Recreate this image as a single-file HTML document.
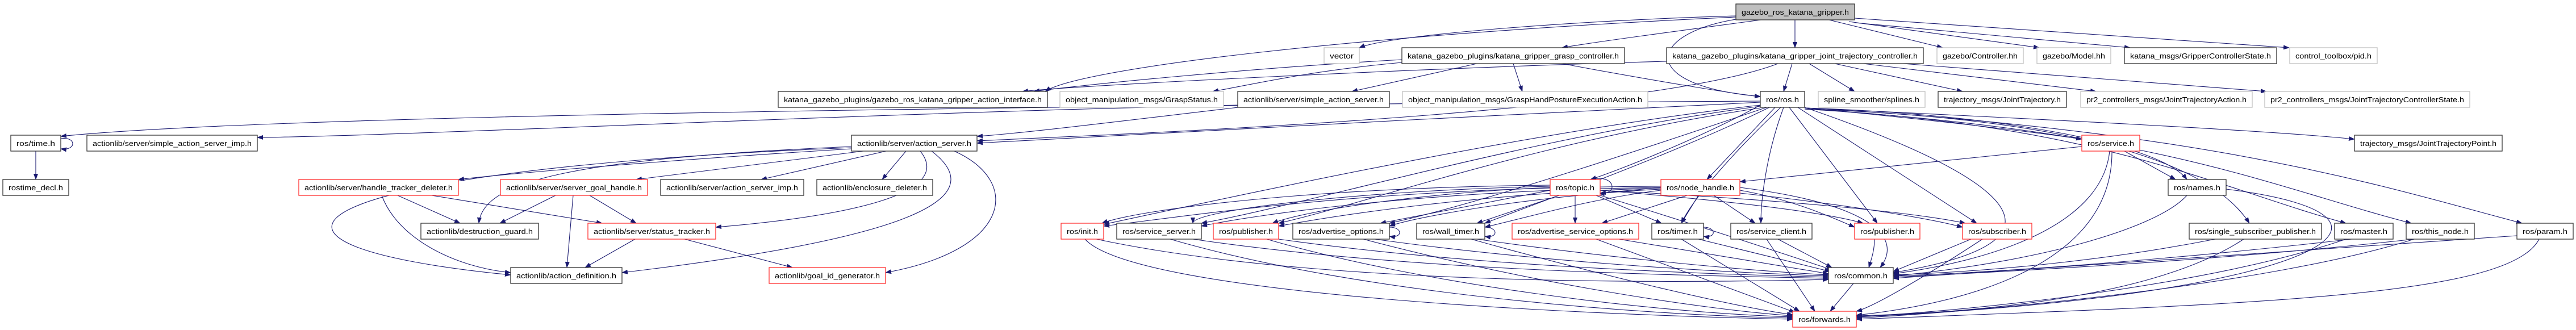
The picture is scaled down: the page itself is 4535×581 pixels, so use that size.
<!DOCTYPE html>
<html><head><meta charset="utf-8"><style>
html,body{margin:0;padding:0;background:#fff;}
svg{display:block;}
text{font-family:"Liberation Sans","DejaVu Sans",sans-serif;font-size:12.5px;fill:#000;}
.e{fill:none;stroke:#191970;stroke-width:1.1;marker-end:url(#a);}
.b{fill:#fff;stroke:#333;stroke-width:1.3;}
.r{fill:#fff;stroke:#ff3030;stroke-width:1.3;}
.g{fill:#fff;stroke:#bfbfbf;stroke-width:1.3;}
</style></head><body>
<svg width="4535" height="581" viewBox="0 0 4535 581" xmlns="http://www.w3.org/2000/svg">
<defs><marker id="a" markerWidth="11" markerHeight="8" refX="10" refY="4" orient="auto" markerUnits="userSpaceOnUse"><path d="M0,0 L11,4 L0,8 z" fill="#191970"/></marker></defs>
<g>
<path class="e" d="M3056,28 C2800,35 2450,60 2393,84"/>
<path class="e" d="M3056,30 C2400,60 1900,120 1840,161"/>
<path class="e" d="M3100,35 C2950,55 2800,75 2750,84"/>
<path class="e" d="M3160,35 L3160,84"/>
<path class="e" d="M3220,35 L3420,84"/>
<path class="e" d="M3255,38 L3590,84"/>
<path class="e" d="M3265,40 L3750,84"/>
<path class="e" d="M3265,32 L4030,84"/>
<path class="e" d="M3056,34 C2900,60 2880,150 3099,170"/>
<path class="e" d="M2468,105 C2200,120 1900,150 1820,161"/>
<path class="e" d="M2600,112 L2380,161"/>
<path class="e" d="M2664,112 L2680,161"/>
<path class="e" d="M2468,110 C2300,125 2200,150 2135,161"/>
<path class="e" d="M2750,112 C2900,140 3050,165 3099,170"/>
<path class="e" d="M2934,108 C2500,120 1900,150 1800,161"/>
<path class="e" d="M3155,112 L3140,161"/>
<path class="e" d="M3185,112 L3265,161"/>
<path class="e" d="M3230,112 L3455,161"/>
<path class="e" d="M3280,112 L3690,161"/>
<path class="e" d="M3350,112 L3990,161"/>
<path class="e" d="M3130,112 C2900,200 2000,235 1720,248"/>
<path class="e" d="M2179,185 C1500,200 700,240 453,242"/>
<path class="e" d="M2180,189 C2000,210 1800,235 1720,240"/>
<path class="e" d="M3099,178 C2000,185 500,200 107,240"/>
<path class="e" d="M3099,180 C2700,200 2000,235 1720,252"/>
<path class="e" d="M3125,189 L3005,316"/>
<path class="e" d="M3099,185 C3000,240 2850,300 2800,316"/>
<path class="e" d="M3177,190 C3400,210 3600,235 3665,245"/>
<path class="e" d="M3177,190 C3500,200 3800,250 3850,316"/>
<path class="e" d="M3150,189 L3305,393"/>
<path class="e" d="M3165,189 L3480,393"/>
<path class="e" d="M3177,189 C3500,300 3700,420 3333,480"/>
<path class="e" d="M3177,192 C3700,210 3900,300 3960,393"/>
<path class="e" d="M3177,192 C3700,220 3900,330 4130,393"/>
<path class="e" d="M3177,192 C3800,230 4000,330 4245,393"/>
<path class="e" d="M3177,190 C3900,230 4200,330 4440,393"/>
<path class="e" d="M3177,190 C3600,210 4000,230 4145,245"/>
<path class="e" d="M3099,185 C2700,230 2200,340 1943,395"/>
<path class="e" d="M3099,187 C2700,240 2300,360 2115,393"/>
<path class="e" d="M3099,190 C2700,250 2400,360 2251,393"/>
<path class="e" d="M3110,189 C2900,260 2600,360 2446,393"/>
<path class="e" d="M3115,189 C2950,270 2700,360 2614,393"/>
<path class="e" d="M3135,189 C3050,270 2980,350 2960,393"/>
<path class="e" d="M3140,189 C3110,270 3100,350 3100,393"/>
<path class="e" d="M1499,262 C1200,280 900,305 807,316"/>
<path class="e" d="M1520,266 L1120,316"/>
<path class="e" d="M1560,266 L1340,316"/>
<path class="e" d="M1595,266 L1553,316"/>
<path class="e" d="M1499,258 C1000,280 850,320 843,393"/>
<path class="e" d="M1620,266 C1680,340 1500,380 1260,400"/>
<path class="e" d="M1640,266 C1750,350 1600,420 1095,480"/>
<path class="e" d="M1680,266 C1800,320 1780,440 1559,480"/>
<path class="e" d="M1499,260 C500,300 350,430 899,484"/>
<path class="e" d="M700,344 L810,393"/>
<path class="e" d="M760,344 L1060,393"/>
<path class="e" d="M672,344 C700,420 800,470 899,480"/>
<path class="e" d="M978,344 L880,393"/>
<path class="e" d="M1038,344 L1120,393"/>
<path class="e" d="M1009,344 L998,471"/>
<path class="e" d="M1118,421 L1030,471"/>
<path class="e" d="M1205,421 L1395,471"/>
<path class="e" d="M63,266 L63,316"/>
<path class="e" d="M2773,344 L2773,393"/>
<path class="e" d="M2810,344 L2925,393"/>
<path class="e" d="M2745,344 L2600,393"/>
<path class="e" d="M2729,335 L2430,393"/>
<path class="e" d="M2729,330 C2500,340 2300,370 2240,393"/>
<path class="e" d="M2729,328 C2400,335 2100,370 2100,393"/>
<path class="e" d="M2729,326 C2300,330 2000,370 1940,393"/>
<path class="e" d="M2817,344 C3000,400 3150,450 3225,475"/>
<path class="e" d="M2817,335 C3000,350 3200,370 3280,393"/>
<path class="e" d="M2817,335 C3100,350 3350,370 3460,393"/>
<path class="e" d="M2970,344 L2820,393"/>
<path class="e" d="M2990,344 L2960,393"/>
<path class="e" d="M3017,344 L3090,393"/>
<path class="e" d="M2924,335 C2800,350 2700,380 2614,400"/>
<path class="e" d="M2924,333 C2700,345 2500,380 2446,398"/>
<path class="e" d="M2924,331 C2600,340 2350,380 2251,398"/>
<path class="e" d="M2924,330 C2500,335 2200,380 2115,398"/>
<path class="e" d="M2924,328 C2400,330 2100,380 1943,398"/>
<path class="e" d="M3063,335 C3150,350 3220,380 3265,400"/>
<path class="e" d="M3063,340 C3250,360 3400,385 3455,400"/>
<path class="e" d="M3063,330 C3300,360 3350,420 3310,471"/>
<path class="e" d="M2924,330 L2817,340"/>
<path class="e" d="M3665,258 L3063,320"/>
<path class="e" d="M3740,266 L3830,316"/>
<path class="e" d="M3714,266 C3700,400 3500,460 3333,482"/>
<path class="e" d="M3718,266 C3720,450 3500,530 3268,555"/>
<path class="e" d="M3850,344 C3800,400 3600,460 3333,486"/>
<path class="e" d="M3919,333 C4300,380 4100,520 3268,558"/>
<path class="e" d="M1930,421 C2300,500 2900,500 3219,492"/>
<path class="e" d="M1910,421 C2000,520 2800,555 3156,562"/>
<path class="e" d="M2100,421 C2500,480 3000,485 3219,490"/>
<path class="e" d="M2060,421 C2400,520 2900,555 3156,560"/>
<path class="e" d="M2251,421 C2600,470 3000,482 3219,488"/>
<path class="e" d="M2230,421 C2500,500 2900,550 3156,558"/>
<path class="e" d="M2420,421 C2700,460 3000,478 3219,486"/>
<path class="e" d="M2400,421 C2700,500 3000,545 3156,556"/>
<path class="e" d="M2600,421 C2800,450 3050,475 3219,484"/>
<path class="e" d="M2590,421 C2800,480 3050,540 3156,554"/>
<path class="e" d="M2850,421 L3219,482"/>
<path class="e" d="M2810,421 L3160,550"/>
<path class="e" d="M2990,421 L3222,478"/>
<path class="e" d="M2960,421 L3168,548"/>
<path class="e" d="M3130,421 L3225,471"/>
<path class="e" d="M3110,421 L3195,548"/>
<path class="e" d="M3300,421 C3300,440 3295,455 3290,471"/>
<path class="e" d="M3470,421 L3333,478"/>
<path class="e" d="M3490,421 C3400,480 3300,540 3268,548"/>
<path class="e" d="M3900,421 C3700,460 3500,478 3333,484"/>
<path class="e" d="M3950,421 C3800,520 3500,550 3268,556"/>
<path class="e" d="M4140,421 C3800,460 3500,480 3333,486"/>
<path class="e" d="M4130,421 C3900,500 3500,545 3268,558"/>
<path class="e" d="M4250,421 C3900,460 3500,480 3333,488"/>
<path class="e" d="M4250,421 C4000,500 3500,548 3268,560"/>
<path class="e" d="M4431,415 C3900,450 3500,480 3333,490"/>
<path class="e" d="M4470,421 C4420,520 4000,535 3268,562"/>
<path class="e" d="M3263,499 L3222,548"/>
<!-- self loops -->
<path class="e" d="M107,244 C135,240 135,266 107,262"/>
<path class="e" d="M2446,400 C2470,400 2470,420 2446,416"/>
<path class="e" d="M2614,400 C2638,400 2638,420 2614,416"/>
<path class="e" d="M2999,400 C3022,400 3022,420 2999,416"/>
<path class="e" d="M2800,316 C2845,305 2850,345 2815,340"/>
</g>
<g>
<rect x="3056" y="7" width="209" height="28" fill="#bfbfbf" stroke="#333" stroke-width="1.3"/><text x="3066" y="26" textLength="189" lengthAdjust="spacingAndGlyphs">gazebo_ros_katana_gripper.h</text>
<rect class="g" x="2331" y="84" width="62" height="28"/><text x="2341" y="103" textLength="42" lengthAdjust="spacingAndGlyphs">vector</text>
<rect class="b" x="2468" y="84" width="392" height="28"/><text x="2478" y="103" textLength="372" lengthAdjust="spacingAndGlyphs">katana_gazebo_plugins/katana_gripper_grasp_controller.h</text>
<rect class="b" x="2934" y="84" width="452" height="28"/><text x="2944" y="103" textLength="432" lengthAdjust="spacingAndGlyphs">katana_gazebo_plugins/katana_gripper_joint_trajectory_controller.h</text>
<rect class="g" x="3410" y="84" width="152" height="28"/><text x="3420" y="103" textLength="132" lengthAdjust="spacingAndGlyphs">gazebo/Controller.hh</text>
<rect class="g" x="3586" y="84" width="130" height="28"/><text x="3596" y="103" textLength="110" lengthAdjust="spacingAndGlyphs">gazebo/Model.hh</text>
<rect class="b" x="3740" y="84" width="268" height="28"/><text x="3750" y="103" textLength="248" lengthAdjust="spacingAndGlyphs">katana_msgs/GripperControllerState.h</text>
<rect class="g" x="4031" y="84" width="154" height="28"/><text x="4041" y="103" textLength="134" lengthAdjust="spacingAndGlyphs">control_toolbox/pid.h</text>

<rect class="b" x="1370" y="161" width="474" height="28"/><text x="1380" y="180" textLength="454" lengthAdjust="spacingAndGlyphs">katana_gazebo_plugins/gazebo_ros_katana_gripper_action_interface.h</text>
<rect class="g" x="1866" y="161" width="288" height="28"/><text x="1876" y="180" textLength="268" lengthAdjust="spacingAndGlyphs">object_manipulation_msgs/GraspStatus.h</text>
<rect class="b" x="2179" y="161" width="267" height="28"/><text x="2189" y="180" textLength="247" lengthAdjust="spacingAndGlyphs">actionlib/server/simple_action_server.h</text>
<rect class="g" x="2469" y="161" width="432" height="28"/><text x="2479" y="180" textLength="412" lengthAdjust="spacingAndGlyphs">object_manipulation_msgs/GraspHandPostureExecutionAction.h</text>
<rect class="b" x="3099" y="161" width="78" height="28"/><text x="3109" y="180" textLength="58" lengthAdjust="spacingAndGlyphs">ros/ros.h</text>
<rect class="g" x="3201" y="161" width="188" height="28"/><text x="3211" y="180" textLength="168" lengthAdjust="spacingAndGlyphs">spline_smoother/splines.h</text>
<rect class="b" x="3412" y="161" width="226" height="28"/><text x="3422" y="180" textLength="206" lengthAdjust="spacingAndGlyphs">trajectory_msgs/JointTrajectory.h</text>
<rect class="g" x="3663" y="161" width="302" height="28"/><text x="3673" y="180" textLength="282" lengthAdjust="spacingAndGlyphs">pr2_controllers_msgs/JointTrajectoryAction.h</text>
<rect class="g" x="3987" y="161" width="361" height="28"/><text x="3997" y="180" textLength="341" lengthAdjust="spacingAndGlyphs">pr2_controllers_msgs/JointTrajectoryControllerState.h</text>

<rect class="b" x="19" y="238" width="88" height="28"/><text x="29" y="257" textLength="68" lengthAdjust="spacingAndGlyphs">ros/time.h</text>
<rect class="b" x="153" y="238" width="300" height="28"/><text x="163" y="257" textLength="280" lengthAdjust="spacingAndGlyphs">actionlib/server/simple_action_server_imp.h</text>
<rect class="b" x="1499" y="238" width="221" height="28"/><text x="1509" y="257" textLength="201" lengthAdjust="spacingAndGlyphs">actionlib/server/action_server.h</text>
<rect class="r" x="3665" y="238" width="102" height="28"/><text x="3675" y="257" textLength="82" lengthAdjust="spacingAndGlyphs">ros/service.h</text>
<rect class="b" x="4145" y="238" width="260" height="28"/><text x="4155" y="257" textLength="240" lengthAdjust="spacingAndGlyphs">trajectory_msgs/JointTrajectoryPoint.h</text>

<rect class="b" x="5" y="316" width="116" height="28"/><text x="15" y="335" textLength="96" lengthAdjust="spacingAndGlyphs">rostime_decl.h</text>
<rect class="r" x="526" y="316" width="281" height="28"/><text x="536" y="335" textLength="261" lengthAdjust="spacingAndGlyphs">actionlib/server/handle_tracker_deleter.h</text>
<rect class="r" x="881" y="316" width="259" height="28"/><text x="891" y="335" textLength="239" lengthAdjust="spacingAndGlyphs">actionlib/server/server_goal_handle.h</text>
<rect class="b" x="1163" y="316" width="252" height="28"/><text x="1173" y="335" textLength="232" lengthAdjust="spacingAndGlyphs">actionlib/server/action_server_imp.h</text>
<rect class="b" x="1438" y="316" width="204" height="28"/><text x="1448" y="335" textLength="184" lengthAdjust="spacingAndGlyphs">actionlib/enclosure_deleter.h</text>
<rect class="r" x="2729" y="316" width="88" height="28"/><text x="2739" y="335" textLength="68" lengthAdjust="spacingAndGlyphs">ros/topic.h</text>
<rect class="r" x="2924" y="316" width="139" height="28"/><text x="2934" y="335" textLength="119" lengthAdjust="spacingAndGlyphs">ros/node_handle.h</text>
<rect class="b" x="3817" y="316" width="102" height="28"/><text x="3827" y="335" textLength="82" lengthAdjust="spacingAndGlyphs">ros/names.h</text>

<rect class="b" x="741" y="393" width="207" height="28"/><text x="751" y="412" textLength="187" lengthAdjust="spacingAndGlyphs">actionlib/destruction_guard.h</text>
<rect class="r" x="1035" y="393" width="225" height="28"/><text x="1045" y="412" textLength="205" lengthAdjust="spacingAndGlyphs">actionlib/server/status_tracker.h</text>
<rect class="r" x="1868" y="393" width="75" height="28"/><text x="1878" y="412" textLength="55" lengthAdjust="spacingAndGlyphs">ros/init.h</text>
<rect class="b" x="1966" y="393" width="149" height="28"/><text x="1976" y="412" textLength="129" lengthAdjust="spacingAndGlyphs">ros/service_server.h</text>
<rect class="r" x="2136" y="393" width="115" height="28"/><text x="2146" y="412" textLength="95" lengthAdjust="spacingAndGlyphs">ros/publisher.h</text>
<rect class="b" x="2276" y="393" width="170" height="28"/><text x="2286" y="412" textLength="150" lengthAdjust="spacingAndGlyphs">ros/advertise_options.h</text>
<rect class="b" x="2494" y="393" width="120" height="28"/><text x="2504" y="412" textLength="100" lengthAdjust="spacingAndGlyphs">ros/wall_timer.h</text>
<rect class="r" x="2662" y="393" width="223" height="28"/><text x="2672" y="412" textLength="203" lengthAdjust="spacingAndGlyphs">ros/advertise_service_options.h</text>
<rect class="b" x="2908" y="393" width="91" height="28"/><text x="2918" y="412" textLength="71" lengthAdjust="spacingAndGlyphs">ros/timer.h</text>
<rect class="b" x="3047" y="393" width="143" height="28"/><text x="3057" y="412" textLength="123" lengthAdjust="spacingAndGlyphs">ros/service_client.h</text>
<rect class="r" x="3265" y="393" width="115" height="28"/><text x="3275" y="412" textLength="95" lengthAdjust="spacingAndGlyphs">ros/publisher.h</text>
<rect class="r" x="3455" y="393" width="122" height="28"/><text x="3465" y="412" textLength="102" lengthAdjust="spacingAndGlyphs">ros/subscriber.h</text>
<rect class="b" x="3854" y="393" width="233" height="28"/><text x="3864" y="412" textLength="213" lengthAdjust="spacingAndGlyphs">ros/single_subscriber_publisher.h</text>
<rect class="b" x="4110" y="393" width="103" height="28"/><text x="4120" y="412" textLength="83" lengthAdjust="spacingAndGlyphs">ros/master.h</text>
<rect class="b" x="4236" y="393" width="120" height="28"/><text x="4246" y="412" textLength="100" lengthAdjust="spacingAndGlyphs">ros/this_node.h</text>
<rect class="b" x="4431" y="393" width="99" height="28"/><text x="4441" y="412" textLength="79" lengthAdjust="spacingAndGlyphs">ros/param.h</text>

<rect class="b" x="899" y="471" width="196" height="28"/><text x="909" y="490" textLength="176" lengthAdjust="spacingAndGlyphs">actionlib/action_definition.h</text>
<rect class="r" x="1354" y="471" width="205" height="28"/><text x="1364" y="490" textLength="185" lengthAdjust="spacingAndGlyphs">actionlib/goal_id_generator.h</text>
<rect class="b" x="3219" y="471" width="114" height="28"/><text x="3229" y="490" textLength="94" lengthAdjust="spacingAndGlyphs">ros/common.h</text>

<rect class="r" x="3156" y="548" width="112" height="28"/><text x="3166" y="567" textLength="92" lengthAdjust="spacingAndGlyphs">ros/forwards.h</text>
</g>
</svg>
</body></html>
